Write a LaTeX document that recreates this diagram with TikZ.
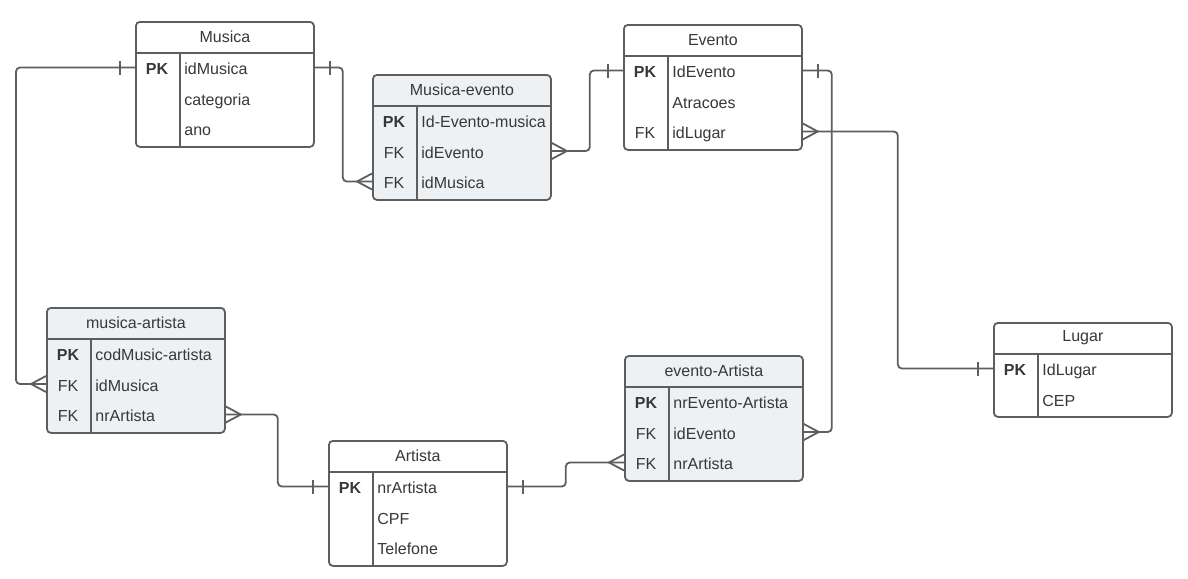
\documentclass[tikz,border=0pt]{standalone}
\usepackage{fontspec}
\setmainfont{Liberation Sans}
\definecolor{linegray}{HTML}{5E5E5E}
\definecolor{txtgray}{HTML}{383838}
\definecolor{shade}{HTML}{EEF1F3}

\begin{document}
\begin{tikzpicture}[x=0.5pt, y=-0.5pt, font=\fontsize{8}{9.6}\selectfont,
    crowfoot/.pic={\draw[link, sharp corners] (0,-8) -- (15,0) -- (0,8);},
    onebar/.pic={\draw[link] (15,-7) -- (15,7);}]
	\tikzstyle{link}=[draw=linegray, line width=0.9pt, rounded corners=2pt]
	\tikzstyle{entity}=[draw=linegray, line width=0.9pt, rounded corners=2pt, fill=white, minimum width=89pt, minimum height=62.5pt, anchor=north west, inner sep=0pt]
	\tikzstyle{assoc}=[entity, fill=shade]
	\tikzstyle{title}=[text=txtgray, inner sep=0pt]
	\tikzstyle{field}=[text=txtgray, anchor=west, inner sep=0pt, text height=1.7ex, text depth=.3ex]
	\tikzstyle{key}=[field, anchor=center]
	\tikzstyle{rule}=[draw=linegray, line width=0.9pt]

	\useasboundingbox (0,0) rectangle (1188,578);

	% Musica
	\node[entity] (mus) at (135,21) {};
	\node[title] at ([yshift=-8pt]mus.north) {Musica};
	\draw[rule] ([yshift=-16pt]mus.north west) -- ([yshift=-16pt]mus.north east)
		([shift={(22.5pt,-16pt)}]mus.north west) -- ([xshift=22.5pt]mus.south west);
	\foreach \k/\f [count=\i] in {\textbf{PK}/idMusica, /categoria, /ano} {
		\node[key] at ([shift={(11pt,{-8pt-15.25pt*\i})}]mus.north west) {\k};
		\node[field] (mus-\i) at ([shift={(24.5pt,{-8pt-15.25pt*\i})}]mus.north west) {\f};
	}

	% Musica-evento
	\node[assoc] (musev) at (372,74) {};
	\node[title] at ([yshift=-8pt]musev.north) {Musica-evento};
	\draw[rule] ([yshift=-16pt]musev.north west) -- ([yshift=-16pt]musev.north east)
		([shift={(22.5pt,-16pt)}]musev.north west) -- ([xshift=22.5pt]musev.south west);
	\foreach \k/\f [count=\i] in {\textbf{PK}/Id-Evento-musica, FK/idEvento, FK/idMusica} {
		\node[key] at ([shift={(11pt,{-8pt-15.25pt*\i})}]musev.north west) {\k};
		\node[field] (musev-\i) at ([shift={(24.5pt,{-8pt-15.25pt*\i})}]musev.north west) {\f};
	}

	% Evento
	\node[entity] (ev) at (623,24) {};
	\node[title] at ([yshift=-8pt]ev.north) {Evento};
	\draw[rule] ([yshift=-16pt]ev.north west) -- ([yshift=-16pt]ev.north east)
		([shift={(22.5pt,-16pt)}]ev.north west) -- ([xshift=22.5pt]ev.south west);
	\foreach \k/\f [count=\i] in {\textbf{PK}/IdEvento, /Atracoes, FK/idLugar} {
		\node[key] at ([shift={(11pt,{-8pt-15.25pt*\i})}]ev.north west) {\k};
		\node[field] (ev-\i) at ([shift={(24.5pt,{-8pt-15.25pt*\i})}]ev.north west) {\f};
	}

	% musica-artista
	\node[assoc] (mart) at (46,307) {};
	\node[title] at ([yshift=-8pt]mart.north) {musica-artista};
	\draw[rule] ([yshift=-16pt]mart.north west) -- ([yshift=-16pt]mart.north east)
		([shift={(22.5pt,-16pt)}]mart.north west) -- ([xshift=22.5pt]mart.south west);
	\foreach \k/\f [count=\i] in {\textbf{PK}/codMusic-artista, FK/idMusica, FK/nrArtista} {
		\node[key] at ([shift={(11pt,{-8pt-15.25pt*\i})}]mart.north west) {\k};
		\node[field] (mart-\i) at ([shift={(24.5pt,{-8pt-15.25pt*\i})}]mart.north west) {\f};
	}

	% Artista
	\node[entity] (art) at (328,440) {};
	\node[title] at ([yshift=-8pt]art.north) {Artista};
	\draw[rule] ([yshift=-16pt]art.north west) -- ([yshift=-16pt]art.north east)
		([shift={(22.5pt,-16pt)}]art.north west) -- ([xshift=22.5pt]art.south west);
	\foreach \k/\f [count=\i] in {\textbf{PK}/nrArtista, /CPF, /Telefone} {
		\node[key] at ([shift={(11pt,{-8pt-15.25pt*\i})}]art.north west) {\k};
		\node[field] (art-\i) at ([shift={(24.5pt,{-8pt-15.25pt*\i})}]art.north west) {\f};
	}

	% evento-Artista
	\node[assoc] (evart) at (624,355) {};
	\node[title] at ([yshift=-8pt]evart.north) {evento-Artista};
	\draw[rule] ([yshift=-16pt]evart.north west) -- ([yshift=-16pt]evart.north east)
		([shift={(22.5pt,-16pt)}]evart.north west) -- ([xshift=22.5pt]evart.south west);
	\foreach \k/\f [count=\i] in {\textbf{PK}/nrEvento-Artista, FK/idEvento, FK/nrArtista} {
		\node[key] at ([shift={(11pt,{-8pt-15.25pt*\i})}]evart.north west) {\k};
		\node[field] (evart-\i) at ([shift={(24.5pt,{-8pt-15.25pt*\i})}]evart.north west) {\f};
	}

	% Lugar
	\node[entity, minimum height=47pt] (lug) at (993,322) {};
	\node[title] at ([yshift=-8pt]lug.north) {Lugar};
	\draw[rule] ([yshift=-16pt]lug.north west) -- ([yshift=-16pt]lug.north east)
		([shift={(22.5pt,-16pt)}]lug.north west) -- ([xshift=22.5pt]lug.south west);
	\foreach \k/\f [count=\i] in {\textbf{PK}/IdLugar, /CEP} {
		\node[key] at ([shift={(11pt,{-8pt-15.25pt*\i})}]lug.north west) {\k};
		\node[field] (lug-\i) at ([shift={(24.5pt,{-8pt-15.25pt*\i})}]lug.north west) {\f};
	}

	% relationships
	\draw[link] (mus.west |- mus-1) -- ++(-119,0) |- (mart.west |- mart-2);
	\pic[rotate=180] at (mus.west |- mus-1) {onebar};
	\pic[rotate=180] at (mart.west |- mart-2) {crowfoot};

	\draw[link] (mus.east |- mus-1) -- ++(28,0) |- (musev.west |- musev-3);
	\pic at (mus.east |- mus-1) {onebar};
	\pic[rotate=180] at (musev.west |- musev-3) {crowfoot};

	\draw[link] (musev.east |- musev-2) -- ++(38,0) |- (ev.west |- ev-1);
	\pic at (musev.east |- musev-2) {crowfoot};
	\pic[rotate=180] at (ev.west |- ev-1) {onebar};

	\draw[link] (ev.east |- ev-1) -- ++(29,0) |- (evart.east |- evart-2);
	\pic at (ev.east |- ev-1) {onebar};
	\pic at (evart.east |- evart-2) {crowfoot};

	\draw[link] (ev.east |- ev-3) -- ++(95,0) |- (lug.west |- lug-1);
	\pic at (ev.east |- ev-3) {crowfoot};
	\pic[rotate=180] at (lug.west |- lug-1) {onebar};

	\draw[link] (mart.east |- mart-3) -- ++(52,0) |- (art.west |- art-1);
	\pic at (mart.east |- mart-3) {crowfoot};
	\pic[rotate=180] at (art.west |- art-1) {onebar};

	\draw[link] (art.east |- art-1) -- ++(58,0) |- (evart.west |- evart-3);
	\pic at (art.east |- art-1) {onebar};
	\pic[rotate=180] at (evart.west |- evart-3) {crowfoot};
\end{tikzpicture}
\end{document}
